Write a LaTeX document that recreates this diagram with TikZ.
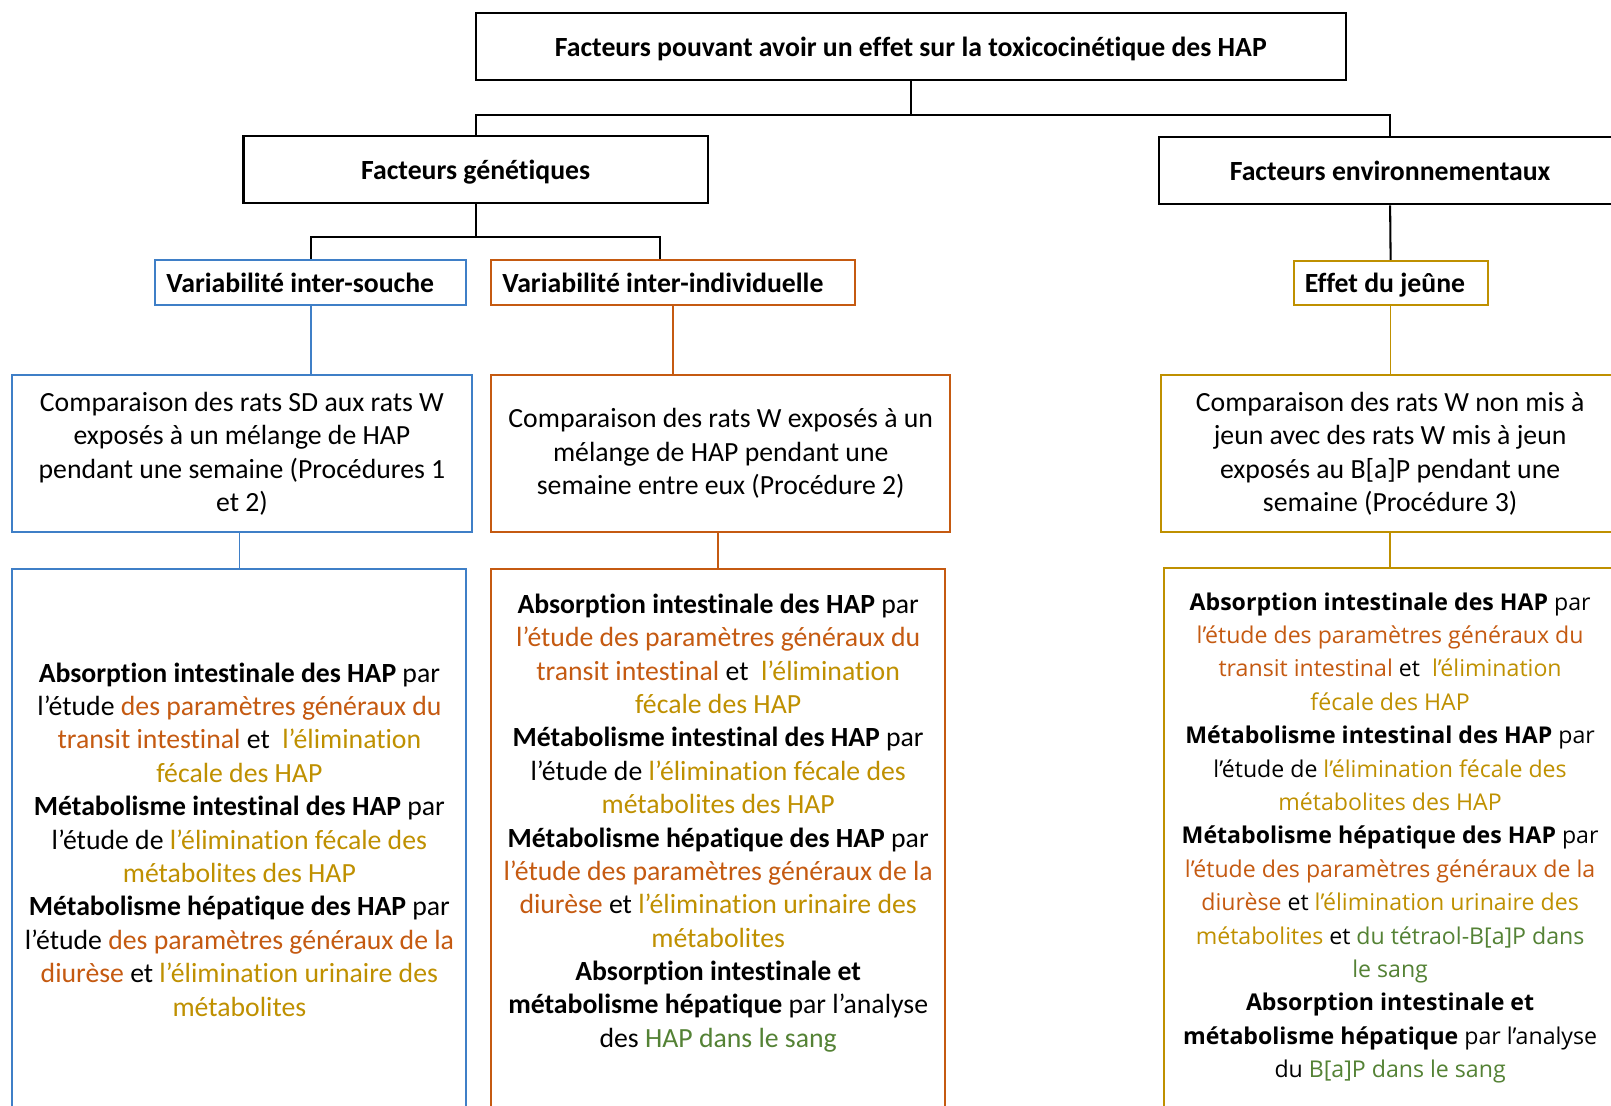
\documentclass[tikz,border=0pt]{standalone}
\usepackage{fontspec}
\setmainfont{Carlito}[Ligatures=NoCommon]
\newfontfamily\osans{Open Sans}
\definecolor{cblue}{HTML}{3F7FC7}
\definecolor{corange}{HTML}{C55A11}
\definecolor{cgold}{HTML}{BF9000}
\definecolor{cgreen}{HTML}{548235}
\newcommand{\colO}[1]{\textcolor{corange}{#1}}
\newcommand{\colG}[1]{\textcolor{cgold}{#1}}
\newcommand{\colV}[1]{\textcolor{cgreen}{#1}}
\tikzset{
  basebox/.style={draw, line width=1pt, inner sep=0pt, align=center, fill=white},
  hdrbox/.style={basebox, draw=black, text height=11.5pt, text depth=2pt, font=\fontsize{13.5}{16}\selectfont\bfseries},
  subbox/.style={basebox, align=flush left, inner xsep=5.5pt, minimum height=22pt, text height=11.5pt, text depth=2pt, font=\fontsize{13.5}{16}\selectfont\bfseries},
  bodybox/.style={basebox, font=\fontsize{13.5}{16.25}\selectfont, minimum width=223.5pt, minimum height=76.5pt},
  bigbox/.style={basebox, font=\fontsize{13.5}{16.25}\selectfont, minimum height=263pt},
  blk/.style={line width=1pt, draw=black},
  clin/.style={line width=0.8pt}
}
\begin{document}
\begin{tikzpicture}[x=0.5pt,y=-0.5pt]
\useasboundingbox (0,0) rectangle (1568,1076);
\clip (0,0) rectangle (1568,1076);
\fill[white] (0,0) rectangle (1568,1076);

% top level
\node[hdrbox, minimum width=423.5pt, minimum height=32.5pt] (top) at (886.5,45.5)
  {Facteurs pouvant avoir un effet sur la toxicocinétique des HAP};
\node[hdrbox, minimum width=226pt, minimum height=33pt] (gen) at (463,165) {Facteurs génétiques};
\node[hdrbox, minimum width=225pt, minimum height=33pt] (env) at (1353,166) {Facteurs environnementaux};

% sub headers
\node[subbox, draw=cblue, text width=140.5pt] (souche) at (302.5,275) {Variabilité inter-souche};
\node[subbox, draw=corange, text width=166pt] (indiv) at (655,275) {Variabilité inter-individuelle};
\node[subbox, draw=cgold, text width=83.5pt, minimum height=21.5pt] (jeune) at (1353.5,275.5) {Effet du jeûne};

% first body boxes
\node[bodybox, draw=cblue] (b1) at (235.5,441.5)
  {Comparaison des rats SD aux rats W\\exposés à un mélange de HAP\\pendant une semaine (Procédures 1\\et 2)};
\node[bodybox, draw=corange] (o1) at (701.5,441.5)
  {Comparaison des rats W exposés à un\\mélange de HAP pendant une\\semaine entre eux (Procédure 2)};
\node[bodybox, draw=cgold, minimum width=223pt] (g1) at (1353,441.5)
  {Comparaison des rats W non mis à\\jeun avec des rats W mis à jeun\\exposés au B[a]P pendant une\\semaine (Procédure 3)};

% second body boxes
\node[bigbox, draw=cblue, minimum width=221pt] (b2) at (233,817)
  {\textbf{Absorption intestinale des HAP} par\\
   l’étude \colO{des paramètres généraux du}\\
   \colO{transit intestinal} et \ \colG{l’élimination}\\
   \colG{fécale des HAP}\\
   \textbf{Métabolisme intestinal des HAP} par\\
   l’étude de \colG{l’élimination fécale des}\\
   \colG{métabolites des HAP}\\
   \textbf{Métabolisme hépatique des HAP} par\\
   l’étude \colO{des paramètres généraux de la}\\
   \colO{diurèse} et \colG{l’élimination urinaire des}\\
   \colG{métabolites}};
\node[bigbox, draw=corange, minimum width=221pt] (o2) at (699,817) {};
\node[align=center, inner sep=0pt, font=\fontsize{13.5}{16.25}\selectfont] (o2t) at (699,801)
  {\textbf{Absorption intestinale des HAP} par\\
   \colO{l’étude des paramètres généraux du}\\
   \colO{transit intestinal} et \ \colG{l’élimination}\\
   \colG{fécale des HAP}\\
   \textbf{Métabolisme intestinal des HAP} par\\
   l’étude de \colG{l’élimination fécale des}\\
   \colG{métabolites des HAP}\\
   \textbf{Métabolisme hépatique des HAP} par\\
   \colO{l’étude des paramètres généraux de la}\\
   \colO{diurèse} et \colG{l’élimination urinaire des}\\
   \colG{métabolites}\\
   \textbf{Absorption intestinale et}\\
   \textbf{métabolisme hépatique} par l’analyse\\
   des \colV{HAP dans le sang}};
\node[bigbox, draw=cgold, minimum width=220pt, font=\osans\fontsize{11.25}{16.25}\selectfont] (g2) at (1353,815.5)
  {\textbf{Absorption intestinale des HAP} par\\
   \colO{l’étude des paramètres généraux du}\\
   \colO{transit intestinal} et \ \colG{l’élimination}\\
   \colG{fécale des HAP}\\
   \textbf{Métabolisme intestinal des HAP} par\\
   l’étude de \colG{l’élimination fécale des}\\
   \colG{métabolites des HAP}\\
   \textbf{Métabolisme hépatique des HAP} par\\
   \colO{l’étude des paramètres généraux de la}\\
   \colO{diurèse} et \colG{l’élimination urinaire des}\\
   \colG{métabolites} et \colV{du tétraol-B[a]P dans}\\
   \colV{le sang}\\
   \textbf{Absorption intestinale et}\\
   \textbf{métabolisme hépatique} par l’analyse\\
   du \colV{B[a]P dans le sang}};

% connectors
\coordinate (bus1) at (0,112);
\coordinate (bus2) at (0,231);
\draw[blk] (top.south) -- (top.south |- bus1) -| (gen.north);
\draw[blk] (top.south |- bus1) -| (env.north);
\draw[blk] (gen.south) -- (gen.south |- bus2) -| (souche.north);
\draw[blk] (gen.south |- bus2) -| ([xshift=-6.5pt]indiv.north);
\draw[blk] (env.south) -- (jeune.north);

\draw[clin, cblue] (souche.south) -- (souche.south |- b1.north);
\draw[clin, cblue] (b2.north |- b1.south) -- (b2.north);
\draw[clin, corange] (indiv.south) -- (indiv.south |- o1.north);
\draw[clin, corange] (o2.north |- o1.south) -- (o2.north);
\draw[clin, cgold] (jeune.south) -- (jeune.south |- g1.north);
\draw[clin, cgold] (g1.south) -- (g2.north);
\end{tikzpicture}
\end{document}
